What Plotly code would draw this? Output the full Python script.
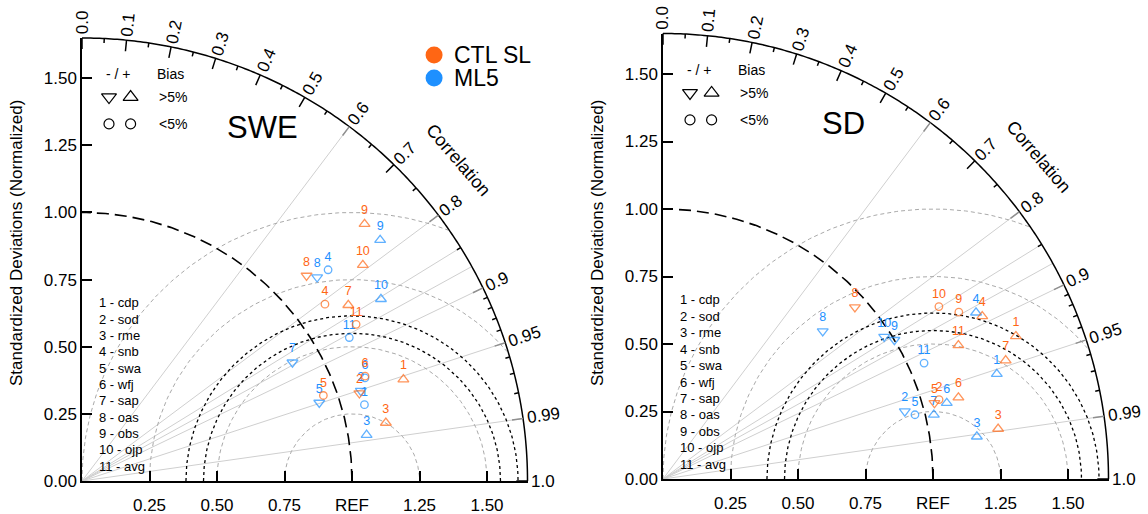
import numpy as np
import plotly.graph_objects as go

W, H = 1148, 514
RMAX = 1.65
FONT = "Liberation Sans, Arial, Helvetica, sans-serif"

# ---------------- data ----------------
station_nums = ["1", "2", "3", "4", "5", "6", "7", "8", "9", "10", "11"]
station_codes = ["cdp", "sod", "rme", "snb", "swa", "wfj", "sap", "oas", "obs", "ojp", "avg"]
series_names = ["CTL SL", "ML5"]

# bias classes: "pos" (> +5%), "neg" (< -5%), "small" (|bias| < 5%)
swe_ctl_std = [1.249, 1.078, 1.146, 1.115, 0.949, 1.119, 1.184, 1.130, 1.418, 1.315, 1.171]
swe_ctl_corr = [0.953, 0.953, 0.982, 0.807, 0.942, 0.937, 0.833, 0.736, 0.738, 0.791, 0.867]
swe_ctl_bias = ["pos", "neg", "pos", "small", "small", "small", "pos", "neg", "pos", "pos", "small"]

swe_ml5_std = [1.084, 1.086, 1.068, 1.204, 0.926, 1.116, 0.896, 1.155, 1.423, 1.298, 1.125]
swe_ml5_corr = [0.965, 0.951, 0.987, 0.757, 0.949, 0.939, 0.870, 0.754, 0.776, 0.853, 0.880]
swe_ml5_bias = ["small", "neg", "pos", "small", "neg", "small", "neg", "neg", "pos", "pos", "small"]

sd_ctl_std = [1.410, 1.064, 1.255, 1.327, 1.044, 1.135, 1.343, 0.954, 1.258, 1.205, 1.201]
sd_ctl_corr = [0.927, 0.961, 0.989, 0.891, 0.963, 0.964, 0.945, 0.745, 0.871, 0.848, 0.911]
sd_ctl_bias = ["pos", "small", "pos", "pos", "neg", "pos", "pos", "neg", "small", "small", "pos"]

sd_ml5_std = [1.296, 0.930, 1.173, 1.313, 0.963, 1.088, 1.031, 0.806, 1.000, 0.974, 1.058]
sd_ml5_corr = [0.954, 0.963, 0.991, 0.883, 0.969, 0.966, 0.973, 0.734, 0.857, 0.841, 0.914]
sd_ml5_bias = ["pos", "neg", "pos", "pos", "small", "pos", "pos", "neg", "neg", "neg", "small"]

std_tick_vals = [0.25, 0.5, 0.75, 1.0, 1.25, 1.5]
std_tick_text = ["0.25", "0.50", "0.75", "REF", "1.25", "1.50"]
y_tick_vals = [0.0, 0.25, 0.5, 0.75, 1.0, 1.25, 1.5]
y_tick_text = ["0.00", "0.25", "0.50", "0.75", "1.00", "1.25", "1.50"]
corr_labels = ["0.0", "0.1", "0.2", "0.3", "0.4", "0.5", "0.6", "0.7", "0.8", "0.9", "0.95", "0.99", "1.0"]
corr_minor = [0.05, 0.15, 0.25, 0.35, 0.45, 0.55, 0.65, 0.75, 0.85, 0.91, 0.92, 0.93, 0.94, 0.96, 0.97, 0.98]
ray_corr = [0.6, 0.8, 0.85, 0.875, 0.9, 0.95, 0.99]
rms_gray = [0.25, 0.5, 0.75, 1.0]
rms_gray_frac = [1.0, 1.0, 0.778, 0.616]
rms_black = [0.55, 0.615]

# ---------------- styling ----------------
COL = {"CTL SL": "#FF6614", "ML5": "#1E90FF"}
SYM = {"pos": "triangle-up-open", "neg": "triangle-down-open", "small": "circle-open"}
SIZE = {"pos": 9, "neg": 9, "small": 7}

panels = [
    dict(title="SWE", ox=82, oy=481, sx=270, sy=268.5, sfx="",
         series=[("ML5", swe_ml5_std, swe_ml5_corr, swe_ml5_bias),
                 ("CTL SL", swe_ctl_std, swe_ctl_corr, swe_ctl_bias)]),
    dict(title="SD", ox=663, oy=479, sx=270, sy=270, sfx="2",
         series=[("ML5", sd_ml5_std, sd_ml5_corr, sd_ml5_bias),
                 ("CTL SL", sd_ctl_std, sd_ctl_corr, sd_ctl_bias)]),
]

fig = go.Figure()
shapes = []
annotations = []


def txt_w(s, size):
    w = 0
    for ch in s:
        w += 0.278 if ch == "." else 0.556
    return w * size


for pi, p in enumerate(panels):
    sfx = p["sfx"]
    xa, ya = "x" + sfx, "y" + sfx

    def pp(x, y, p=p):
        return ((p["ox"] + x * p["sx"]) / W, (H - p["oy"] + y * p["sy"]) / H)

    x0d, y0d = pp(0, 0)
    x1d, y1d = pp(RMAX, RMAX)
    axis_common = dict(range=[0, RMAX], showgrid=False, zeroline=False, showline=True,
                       linecolor="black", linewidth=1.5, ticks="inside", ticklen=10,
                       tickwidth=1.5, tickcolor="black", fixedrange=True,
                       tickfont=dict(family=FONT, size=17, color="black"), automargin=False)
    fig.update_layout(**{
        "xaxis" + sfx: dict(domain=[x0d, x1d], anchor=ya, tickmode="array",
                            tickvals=std_tick_vals, ticktext=std_tick_text,
                            ticklabelstandoff=8, **axis_common),
        "yaxis" + sfx: dict(domain=[y0d, y1d], anchor=xa, tickmode="array",
                            tickvals=y_tick_vals, ticktext=y_tick_text, **axis_common),
    })

    # correlation rays
    rx, ry = [], []
    for c in ray_corr:
        t = np.arccos(c)
        rx += [0, RMAX * np.cos(t), None]
        ry += [0, RMAX * np.sin(t), None]
    fig.add_trace(go.Scatter(x=rx, y=ry, mode="lines", line=dict(color="#cfcfcf", width=1),
                             xaxis=xa, yaxis=ya, hoverinfo="skip", showlegend=False))

    # centred RMS arcs (gray dashed)
    for r, frac in zip(rms_gray, rms_gray_frac):
        ang = np.linspace(np.pi, np.pi + frac * np.pi, 160)
        fig.add_trace(go.Scatter(x=1 + r * np.cos(ang), y=np.abs(r * np.sin(ang)), mode="lines",
                                 line=dict(color="#a9a9a9", width=1, dash="4px,3px"),
                                 xaxis=xa, yaxis=ya, hoverinfo="skip", showlegend=False))
    # black dotted arcs
    for r in rms_black:
        ang = np.linspace(np.pi, 2 * np.pi, 200)
        fig.add_trace(go.Scatter(x=1 + r * np.cos(ang), y=np.abs(r * np.sin(ang)), mode="lines",
                                 line=dict(color="black", width=1.3, dash="3px,3px"),
                                 xaxis=xa, yaxis=ya, hoverinfo="skip", showlegend=False))
    # reference std arc
    ang = np.linspace(0, np.pi / 2, 200)
    fig.add_trace(go.Scatter(x=np.cos(ang), y=np.sin(ang), mode="lines",
                             line=dict(color="black", width=1.6, dash="12px,6px"),
                             xaxis=xa, yaxis=ya, hoverinfo="skip", showlegend=False))

    # data points
    for name, std, cor, bias in p["series"]:
        std = np.array(std)
        cor = np.array(cor)
        fig.add_trace(go.Scatter(
            x=std * cor, y=std * np.sqrt(1 - cor ** 2), mode="markers+text",
            text=station_nums, textposition="top center",
            textfont=dict(family=FONT, size=12.5, color=COL[name]),
            marker=dict(symbol=[SYM[b] for b in bias], size=[SIZE[b] + 0.5 for b in bias],
                        color=COL[name], line=dict(width=1.3, color=COL[name])),
            xaxis=xa, yaxis=ya, cliponaxis=False, name=name, showlegend=False))

    # outer correlation arc (paper-referenced so it is not clipped)
    th = np.linspace(0, np.pi / 2, 240)
    pts = [pp(RMAX * np.cos(t), RMAX * np.sin(t)) for t in th]
    path = "M " + " L ".join(f"{a:.6f},{b:.6f}" for a, b in pts)
    shapes.append(dict(type="path", path=path, xref="paper", yref="paper",
                       line=dict(color="black", width=1.5)))

    # ticks on arc
    black_path, gray_path = [], []
    for lab in corr_labels:
        c = float(lab)
        t = np.arccos(c)
        a = pp(RMAX * np.cos(t), RMAX * np.sin(t))
        b = pp(RMAX * 0.975 * np.cos(t), RMAX * 0.975 * np.sin(t))
        seg = f"M {a[0]:.6f},{a[1]:.6f} L {b[0]:.6f},{b[1]:.6f}"
        if any(abs(c - rc) < 1e-9 for rc in ray_corr):
            gray_path.append(seg)
        else:
            black_path.append(seg)
    for c in corr_minor:
        t = np.arccos(c)
        a = pp(RMAX * np.cos(t), RMAX * np.sin(t))
        b = pp(RMAX * 0.99 * np.cos(t), RMAX * 0.99 * np.sin(t))
        black_path.append(f"M {a[0]:.6f},{a[1]:.6f} L {b[0]:.6f},{b[1]:.6f}")
    shapes.append(dict(type="path", path=" ".join(black_path), xref="paper", yref="paper",
                       line=dict(color="black", width=1.5)))
    shapes.append(dict(type="path", path=" ".join(gray_path), xref="paper", yref="paper",
                       line=dict(color="#8f8f8f", width=1.5)))

    # correlation labels
    for lab in corr_labels:
        c = float(lab)
        t = np.arccos(c)
        rr = RMAX + (4 + txt_w(lab, 17) / 2) / p["sx"]
        px_, py_ = pp(rr * np.cos(t), rr * np.sin(t))
        annotations.append(dict(x=px_, y=py_, xref="paper", yref="paper", text=lab,
                                showarrow=False, xanchor="center", yanchor="middle",
                                textangle=-np.degrees(t),
                                font=dict(family=FONT, size=17, color="black")))
    ca = np.radians(40.6)
    px_, py_ = pp(1.835 * np.cos(ca), 1.835 * np.sin(ca))
    annotations.append(dict(x=px_, y=py_, xref="paper", yref="paper", text="Correlation",
                            showarrow=False, xanchor="center", yanchor="middle",
                            textangle=90 - 40.6, font=dict(family=FONT, size=18, color="black")))

    # y-axis title
    annotations.append(dict(x=(p["ox"] - 66) / W, y=(H - 243) / H, xref="paper", yref="paper",
                            text="Standardized Deviations (Normalized)", showarrow=False,
                            textangle=-90, xanchor="center", yanchor="middle",
                            font=dict(family=FONT, size=17, color="black")))

    # panel title
    annotations.append(dict(x=0.67, y=1.318, xref=xa, yref=ya, text=p["title"], showarrow=False,
                            xanchor="center", yanchor="middle",
                            font=dict(family=FONT, size=31, color="black")))

    # station list
    for k, (n, code) in enumerate(zip(station_nums, station_codes)):
        annotations.append(dict(x=0.056, y=0.663 - k * 0.0608, xref=xa, yref=ya,
                                text=f"{n} - {code}", showarrow=False, xanchor="left",
                                yanchor="middle", font=dict(family=FONT, size=13, color="black")))

    # bias legend
    fig.add_trace(go.Scatter(x=[0.10, 0.18], y=[1.43, 1.43], mode="markers",
                             marker=dict(symbol=["triangle-down-open", "triangle-up-open"], size=13,
                                         color="black", line=dict(width=1.2)),
                             xaxis=xa, yaxis=ya, hoverinfo="skip", showlegend=False, cliponaxis=False))
    fig.add_trace(go.Scatter(x=[0.10, 0.18], y=[1.33, 1.33], mode="markers",
                             marker=dict(symbol="circle-open", size=10, color="black",
                                         line=dict(width=1.2)),
                             xaxis=xa, yaxis=ya, hoverinfo="skip", showlegend=False, cliponaxis=False))
    for tx, xx, yy in [("- / +", 0.135, 1.515), ("Bias", 0.326, 1.515),
                       (">5%", 0.337, 1.43), ("<5%", 0.337, 1.33)]:
        annotations.append(dict(x=xx, y=yy, xref=xa, yref=ya, text=tx.replace("<", "&lt;").replace(">", "&gt;"),
                                showarrow=False, xanchor="center", yanchor="middle",
                                font=dict(family=FONT, size=14, color="black")))

# series legend (left panel)
leg_y = [1.587, 1.501]
for name, yy in zip(series_names, leg_y):
    fig.add_trace(go.Scatter(x=[1.304], y=[yy], mode="markers",
                             marker=dict(symbol="circle", size=17, color=COL[name]),
                             xaxis="x", yaxis="y", hoverinfo="skip", showlegend=False, cliponaxis=False))
    annotations.append(dict(x=1.372, y=yy, xref="x", yref="y", text=name, showarrow=False,
                            xanchor="left", yanchor="middle",
                            font=dict(family=FONT, size=23, color="black")))

fig.update_layout(width=W, height=H, margin=dict(l=0, r=0, t=0, b=0),
                  paper_bgcolor="white", plot_bgcolor="white", showlegend=False,
                  shapes=shapes, annotations=annotations, font=dict(family=FONT))

fig.write_html("out.html", config={"displayModeBar": False, "staticPlot": False},
               post_script="document.body.style.margin='0';document.body.style.padding='0';"
                           "document.body.style.overflow='hidden';")
